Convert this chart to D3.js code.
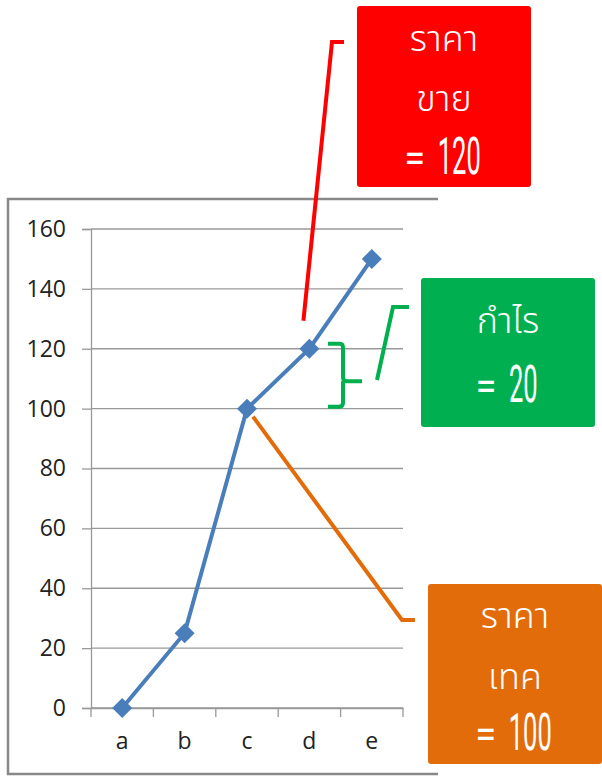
<!DOCTYPE html>
<html>
<head>
<meta charset="utf-8">
<script src="https://cdn.jsdelivr.net/npm/d3@7"></script>
<style>
  body { margin: 0; background: #fff; }
  svg { display: block; }
  .tick text { font-family: "Open Sans", "Liberation Sans", sans-serif; font-size: 23px; fill: #222; }
  .note { font-family: "Noto Sans Thai", "Loma", "Garuda", "Noto Sans", sans-serif; fill: #fff; font-weight: 300; }
</style>
</head>
<body>
<div id="chart"></div>
<script>
const categories = ['a', 'b', 'c', 'd', 'e'];
const values = [0, 25, 100, 120, 150];
const yTicks = [0, 20, 40, 60, 80, 100, 120, 140, 160];

const width = 602, height = 778;
const svg = d3.select('#chart').append('svg')
    .attr('width', width)
    .attr('height', height);

// outer frame (top, left, bottom only — right side is cut off)
svg.append('path')
    .attr('d', 'M438,199 H8 V774 H438')
    .attr('fill', 'none')
    .attr('stroke', '#888')
    .attr('stroke-width', 2.5);

const x = d3.scaleBand().domain(categories).range([91, 403]);
const y = d3.scaleLinear().domain([0, 160]).range([708, 229]);

// gridlines
svg.append('g')
    .selectAll('line')
    .data(yTicks)
    .join('line')
    .attr('x1', 91).attr('x2', 403)
    .attr('y1', d => y(d)).attr('y2', d => y(d))
    .attr('stroke', '#999')
    .attr('stroke-width', 1.3);

// y axis
const yAxis = svg.append('g')
    .attr('transform', 'translate(91,0)')
    .call(d3.axisLeft(y).tickValues(yTicks).tickSize(9).tickPadding(16));
yAxis.select('.domain').attr('stroke', '#999').attr('stroke-width', 1.3);
yAxis.selectAll('.tick line').attr('stroke', '#999').attr('stroke-width', 1.3);

// x axis with ticks between categories
const xAxis = svg.append('g')
    .attr('transform', `translate(0,${y(0)})`)
    .call(d3.axisBottom(x).tickSize(0).tickPadding(29));
xAxis.select('.domain').attr('stroke', '#999').attr('stroke-width', 1.3);
xAxis.selectAll('.tick text').attr('dy', '0.5em');
svg.append('g')
    .selectAll('line')
    .data(categories.map(c => x(c)).concat([x.range()[1]]))
    .join('line')
    .attr('x1', d => d).attr('x2', d => d)
    .attr('y1', y(0)).attr('y2', y(0) + 9)
    .attr('stroke', '#999')
    .attr('stroke-width', 1.3);

const pts = categories.map((c, i) => [x(c) + x.bandwidth() / 2, y(values[i])]);

// series line
svg.append('path')
    .datum(pts)
    .attr('fill', 'none')
    .attr('stroke', '#4a7ebb')
    .attr('stroke-width', 4)
    .attr('d', d3.line());

// diamond markers
svg.append('g')
    .selectAll('path')
    .data(pts)
    .join('path')
    .attr('transform', d => `translate(${d[0]},${d[1]})`)
    .attr('d', 'M0,-10 L10,0 L0,10 L-10,0 Z')
    .attr('fill', '#4a7ebb');

// annotation: red box (selling price)
const ptD = pts[3], ptC = pts[2];
svg.append('path')
    .attr('d', `M344,42 H332 L${ptD[0] - 6},${ptD[1] - 28}`)
    .attr('fill', 'none').attr('stroke', '#ff0000').attr('stroke-width', 4);

// annotation: green brace + leader (profit)
const bTop = y(120) - 5, bBot = y(100) - 2, bMid = (bTop + bBot) / 2 + 6;
svg.append('path')
    .attr('d', `M328,${bTop} H340 Q343,${bTop} 343,${bTop + 4} V${bMid - 4} Q343,${bMid} 347,${bMid} H362 M343,${bMid} V${bBot - 4} Q343,${bBot} 339,${bBot} H328`)
    .attr('fill', 'none').attr('stroke', '#00b050').attr('stroke-width', 4);
svg.append('path')
    .attr('d', 'M409,307 H393 L377,380')
    .attr('fill', 'none').attr('stroke', '#00b050').attr('stroke-width', 4);

// annotation: orange leader (cost)
svg.append('path')
    .attr('d', `M${ptC[0] + 6},${ptC[1] + 8} L402,620 H415`)
    .attr('fill', 'none').attr('stroke', '#e36c0a').attr('stroke-width', 4);

const boxes = [
    { x: 357, y: 6, w: 174, h: 181, fill: '#ff0000', lines: ['ราคา', 'ขาย'], lineY: [40, 100], eq: '=', value: '120', valueY: 157 },
    { x: 421, y: 278, w: 174, h: 149, fill: '#00b050', lines: ['กำไร'], lineY: [322], eq: '=', value: '20', valueY: 385 },
    { x: 428, y: 584, w: 174, h: 180, fill: '#e36c0a', lines: ['ราคา', 'เทค'], lineY: [617, 678], eq: '=', value: '100', valueY: 733 }
];

boxes.forEach(b => {
    svg.append('rect')
        .attr('x', b.x).attr('y', b.y)
        .attr('width', b.w).attr('height', b.h)
        .attr('rx', 3)
        .attr('fill', b.fill);
    const cx = b.x + b.w / 2;
    b.lines.forEach((t, i) => {
        svg.append('text')
            .attr('class', 'note')
            .attr('x', cx).attr('y', b.lineY[i])
            .attr('text-anchor', 'middle')
            .attr('dominant-baseline', 'central')
            .style('font-size', '36px')
            .text(t);
    });
    // "= value" line in a thin condensed style
    const valW = b.value.length * 14.5;
    const totalW = 16 + 15 + valW;
    const left = cx - totalW / 2;
    svg.append('text')
        .attr('class', 'note')
        .attr('transform', `translate(${left + 8},${b.valueY + 2}) scale(0.95,1)`)
        .attr('text-anchor', 'middle')
        .attr('dominant-baseline', 'central')
        .style('font-family', 'Roboto, "Open Sans", sans-serif')
        .style('font-weight', 400)
        .style('font-size', '40px')
        .text(b.eq);
    svg.append('text')
        .attr('class', 'note')
        .attr('transform', `translate(${left + 31},${b.valueY}) scale(0.5,1)`)
        .attr('text-anchor', 'start')
        .attr('dominant-baseline', 'central')
        .style('font-family', 'Roboto, "Open Sans", sans-serif')
        .style('font-weight', 400)
        .style('font-size', '51px')
        .text(b.value);
});
</script>
</body>
</html>
